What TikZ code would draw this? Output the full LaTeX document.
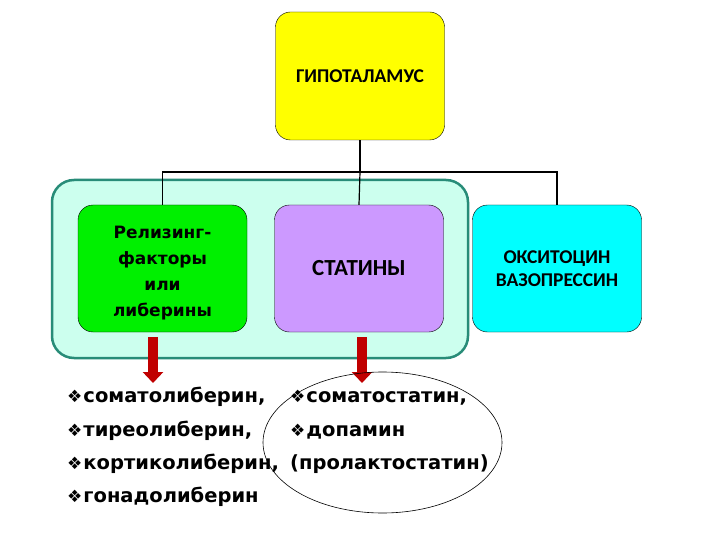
\documentclass[tikz,border=0pt]{standalone}
\usepackage{fontspec}
\setmainfont{DejaVu Sans}
\newfontfamily\calfont{Carlito}
\usetikzlibrary{arrows.meta}
\definecolor{hypoyellow}{RGB}{255,255,0}
\definecolor{rfgreen}{RGB}{0,240,0}
\definecolor{statviolet}{RGB}{204,153,255}
\definecolor{oxycyan}{RGB}{0,255,255}
\definecolor{panelfill}{RGB}{204,255,238}
\definecolor{paneldraw}{RGB}{40,140,120}
\definecolor{arrowred}{RGB}{192,0,0}
\newcommand{\itm}{{\fontsize{17}{17}\selectfont\char"2756}\hspace{1pt}}

\begin{document}
\begin{tikzpicture}[
  x=1pt, y=-1pt,
  hormbox/.style = {draw=black, rounded corners=15pt, minimum width=169pt,
    minimum height=127pt, align=center, inner sep=0pt},
  capsfont/.style = {font=\calfont\bfseries\fontsize{19.5}{23}\selectfont},
  tree/.style = {draw=black, line width=1.2pt},
  bigarrow/.style = {draw=arrowred, line width=10pt,
    -{Triangle[width=20pt,length=11pt]}},
  listitem/.style = {anchor=base west, inner sep=0pt,
    font=\bfseries\fontsize{19.5}{19.5}\selectfont}
]
  \useasboundingbox[fill=white] (0,0) rectangle (720,540);

  % teal panel behind the two left boxes
  \draw[draw=paneldraw, fill=panelfill, line width=2.5pt, rounded corners=22pt]
    (52,180) rectangle (468,358);

  % boxes
  \node[hormbox, fill=hypoyellow, capsfont, minimum height=128pt] (hypo) at (360,76) {ГИПОТАЛАМУС};
  \node[hormbox, fill=rfgreen] (rf) at (162.5,268.5) {};
  \node[align=center, font=\bfseries\fontsize{17}{26}\selectfont] (rftext)
    at ([yshift=-5pt]rf.center) {Релизинг-\\факторы\\или\\либерины};
  \node[hormbox, fill=statviolet, capsfont, font=\calfont\bfseries\fontsize{23}{26}\selectfont] (stat) at (359,268.5) {СТАТИНЫ};
  \node[hormbox, fill=oxycyan, capsfont] (oxy) at (557,268.5) {ОКСИТОЦИН\\ВАЗОПРЕССИН};

  % tree
  \coordinate (split) at (360,172);
  \draw[tree] (hypo.south) -- (split);
  \draw[tree] (split) -| (rf.north);
  \draw[tree] (split) -- (stat.north);
  \draw[tree] (split) -| (oxy.north);

  % red arrows
  \coordinate (rftip) at (153,383);
  \coordinate (stattip) at (362,383);
  \draw[bigarrow] (rftip |- rf.south) ++(0,5) -- (rftip);
  \draw[bigarrow] (stattip |- stat.south) ++(0,5) -- (stattip);

  % lists
  \node[listitem] (lib1) at (67,402) {\itm соматолиберин,};
  \node[listitem] (lib2) at (67,436) {\itm тиреолиберин,};
  \node[listitem] (lib3) at (67,469) {\itm кортиколиберин,};
  \node[listitem] (lib4) at (67,502) {\itm гонадолиберин};
  \node[listitem] (st1) at (290,402) {\itm соматостатин,};
  \node[listitem] (st2) at (290,436) {\itm допамин};
  \node[listitem] (st3) at (290,469) {(пролактостатин)};

  \draw[black, line width=0.6pt] (382.5,442.5) ellipse (119.5 and 70.5);
\end{tikzpicture}
\end{document}
